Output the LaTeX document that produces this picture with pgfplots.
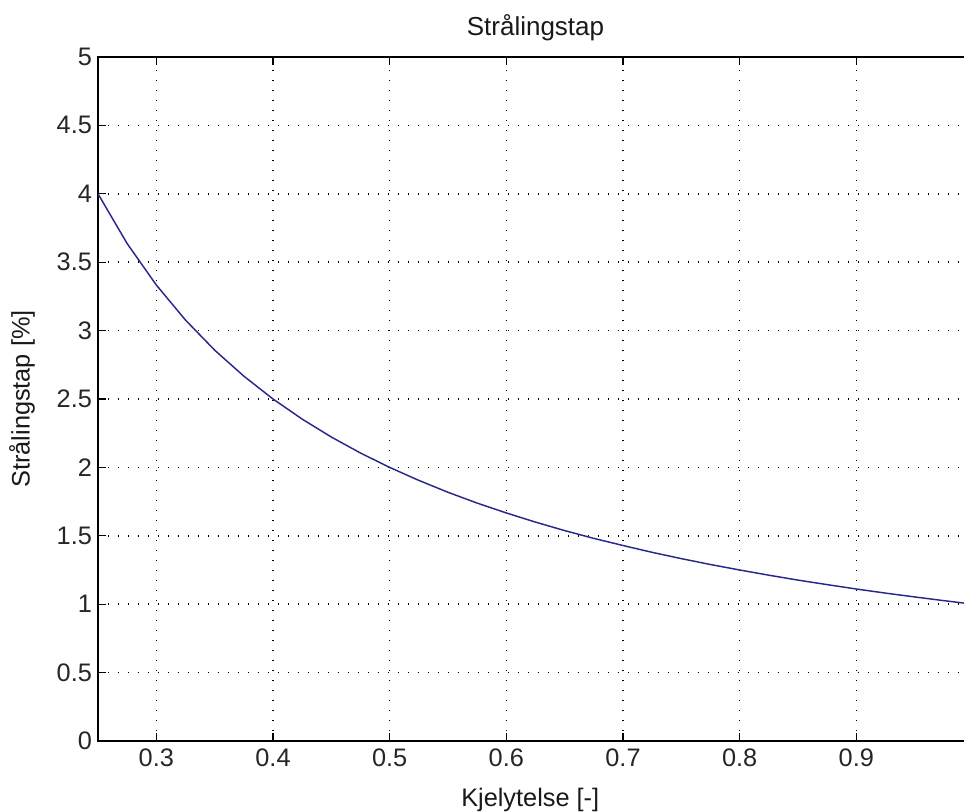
\documentclass[border=0pt]{standalone}
\usepackage{pgfplots}
\pgfplotsset{compat=1.18}
\usepackage{fontspec}
\setmainfont{Liberation Sans}
\definecolor{curve}{RGB}{40,40,140}
\begin{document}
\begin{tikzpicture}
\begin{axis}[
  at={(0pt,0pt)}, anchor=south west,
  scale only axis, width=656.25pt, height=513pt,
  xmin=0.25, xmax=1, ymin=0, ymax=5,
  xtick={0.3,0.4,0.5,0.6,0.7,0.8,0.9,1.0},
  xticklabels={0.3,0.4,0.5,0.6,0.7,0.8,0.9,},
  ytick={0,0.5,1,1.5,2,2.5,3,3.5,4,4.5,5},
  yticklabels={0,0.5,1,1.5,2,2.5,3,3.5,4,4.5,5},
  tick align=inside, major tick length=6pt,
  tick style={black, line width=0.9pt},
  axis line style={black, line width=0.9pt},
  grid=major,
  grid style={black, line width=1.1pt, dash pattern=on 1.1pt off 6.4pt},
  ticklabel style={font=\fontsize{19}{21}\selectfont, text=black!85},
  xticklabel style={yshift=-2pt},
  yticklabel style={xshift=-1pt},
  title={Strålingstap},
  title style={font=\fontsize{19.5}{21}\selectfont, text=black!90, at={(axis description cs:0.5,1.0305)}, anchor=center, yshift=0pt},
  xlabel={Kjelytelse [-]},
  xlabel style={font=\fontsize{19}{21}\selectfont, text=black!90, at={(axis description cs:0.494,-0.0863)}, anchor=center},
  ylabel={Strålingstap [\%]},
  ylabel style={font=\fontsize{19}{21}\selectfont, text=black!90, at={(axis description cs:-0.0869,0.5)}, anchor=center, rotate=0},
]
\addplot[curve, line width=1.1pt, mark=none] coordinates {
(0.25,4.000) (0.275,3.636) (0.3,3.333) (0.325,3.077) (0.35,2.857)
(0.375,2.667) (0.4,2.5) (0.425,2.353) (0.45,2.222) (0.475,2.105)
(0.5,2.0) (0.525,1.905) (0.55,1.818) (0.575,1.739) (0.6,1.667)
(0.625,1.6) (0.65,1.538) (0.675,1.481) (0.7,1.429) (0.725,1.379)
(0.75,1.333) (0.775,1.290) (0.8,1.25) (0.825,1.212) (0.85,1.176)
(0.875,1.143) (0.9,1.111) (0.925,1.081) (0.95,1.053) (0.975,1.026)
(1.0,1.0)
};
\end{axis}
\pgfresetboundingbox
\useasboundingbox (-73.5pt,-53.25pt) rectangle (649.5pt,555.75pt);
\end{tikzpicture}
\end{document}
